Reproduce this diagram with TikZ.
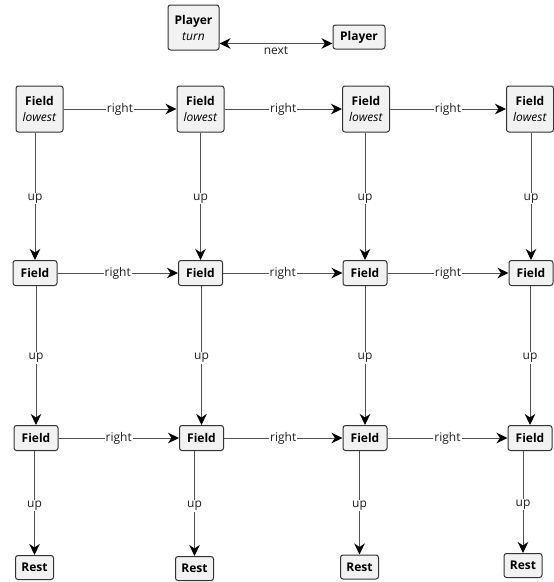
\documentclass[tikz,border=0pt]{standalone}
\usepackage{fontspec}
\setmainfont{Open Sans}
\usetikzlibrary{arrows.meta}
\begin{document}
\begin{tikzpicture}[x=1pt,y=-1pt,
  box/.style={draw=black!80, fill=black!5, rounded corners=2.5pt, line width=1pt,
    inner sep=0pt, align=center, font=\fontsize{12}{16}\selectfont},
  fieldbox/.style={box, minimum width=44pt, minimum height=25pt},
  lowbox/.style={box, minimum width=47pt, minimum height=46pt},
  restbox/.style={box, minimum width=38pt, minimum height=24pt},
  link/.style={draw=black!68, line width=1pt,
    -{Stealth[length=11pt,width=10.5pt,inset=3.5pt,color=black]}},
  lbl/.style={fill=white, inner sep=1pt, text=black!88, font=\fontsize{12}{14}\selectfont},
  uplbl/.style={lbl, yshift=-2.5pt}
]
\useasboundingbox (0,0) rectangle (554,582);

% players
\node[box, minimum width=51pt, minimum height=45pt] (pt) at (193.5,27.5) {\textbf{Player}\\\textit{turn}};
\node[box, minimum width=52pt, minimum height=24pt] (p) at (359,37) {\textbf{Player}};
\draw[draw=black!68, line width=1pt,
  {Stealth[length=11pt,width=10.5pt,inset=3.5pt,color=black]}-{Stealth[length=11pt,width=10.5pt,inset=3.5pt,color=black]}]
  ([yshift=-16pt]pt.east) -- node[lbl, yshift=-7pt] {next} ([yshift=-6.5pt]p.west);

% first row: lowest fields
\node[lowbox] (f11) at (39.5,109) {\textbf{Field}\\\textit{lowest}};
\node[lowbox] (f12) at (200.5,109) {\textbf{Field}\\\textit{lowest}};
\node[lowbox] (f13) at (366,109) {\textbf{Field}\\\textit{lowest}};
\node[lowbox] (f14) at (530,109) {\textbf{Field}\\\textit{lowest}};

% second row
\node[fieldbox] (f21) at (35,273) {\textbf{Field}};
\node[fieldbox] (f22) at (200.5,273) {\textbf{Field}};
\node[fieldbox] (f23) at (365,273) {\textbf{Field}};
\node[fieldbox] (f24) at (531,273) {\textbf{Field}};

% third row
\node[fieldbox] (f31) at (36,438) {\textbf{Field}};
\node[fieldbox] (f32) at (201.5,438) {\textbf{Field}};
\node[fieldbox] (f33) at (365,438) {\textbf{Field}};
\node[fieldbox] (f34) at (530,438) {\textbf{Field}};

% rests
\node[restbox] (r1) at (34.5,567.5) {\textbf{Rest}};
\node[restbox] (r2) at (194.5,568.5) {\textbf{Rest}};
\node[restbox] (r3) at (359.5,567) {\textbf{Rest}};
\node[restbox] (r4) at (523,565.5) {\textbf{Rest}};

% right links
\foreach \r in {1,2,3}{
  \draw[link] (f\r1) -- node[lbl] {right} (f\r2);
  \draw[link] (f\r2) -- node[lbl] {right} (f\r3);
  \draw[link] (f\r3) -- node[lbl] {right} (f\r4);
}

% up links
\draw[link] (f11.south -| f21) -- node[uplbl] {up} (f21);
\draw[link] (f12.south -| f22) -- node[uplbl] {up} (f22);
\draw[link] (f13.south -| f23) -- node[uplbl] {up} (f23);
\draw[link] (f14.south -| f24) -- node[uplbl] {up} (f24);

\draw[link] (f21.south -| f31) -- node[uplbl] {up} (f31);
\draw[link] (f22.south -| f32) -- node[uplbl] {up} (f32);
\draw[link] (f23.south -| f33) -- node[uplbl] {up} (f33);
\draw[link] (f24.south -| f34) -- node[uplbl] {up} (f34);

\draw[link] (f31.south -| r1) -- node[uplbl] {up} (r1);
\draw[link] (f32.south -| r2) -- node[uplbl] {up} (r2);
\draw[link] (f33.south -| r3) -- node[uplbl] {up} (r3);
\draw[link] (f34.south -| r4) -- node[uplbl] {up} (r4);
\end{tikzpicture}
\end{document}
